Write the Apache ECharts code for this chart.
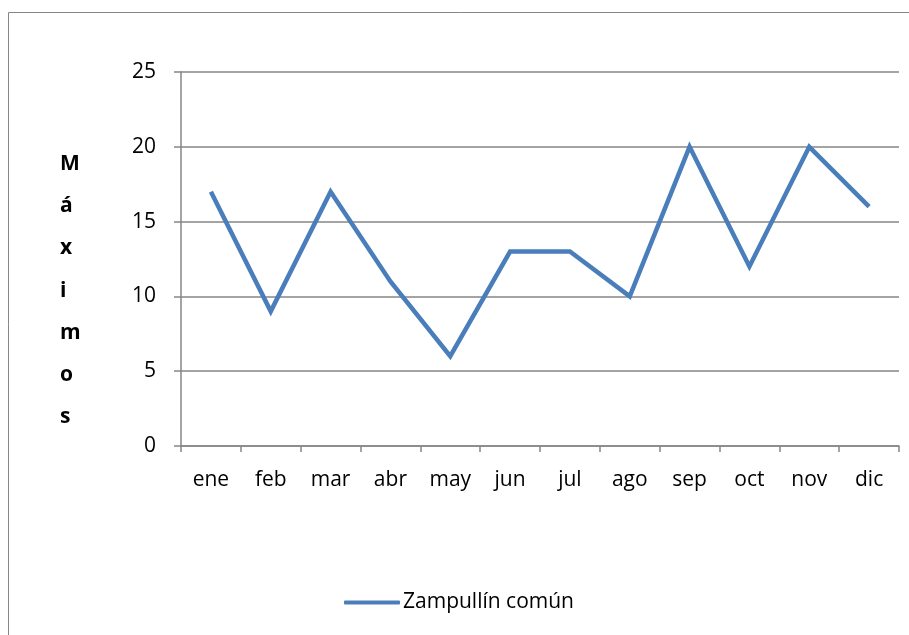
<!DOCTYPE html>
<html>
<head>
<meta charset="utf-8">
<script src="https://cdn.jsdelivr.net/npm/echarts@6/dist/echarts.min.js"></script>
<style>
  html, body { margin: 0; padding: 0; background: #fff; }
  #chart { width: 909px; height: 635px; }
</style>
</head>
<body>
<div id="chart"></div>
<script>
// meses y máximos del zampullín común
var meses = ['ene', 'feb', 'mar', 'abr', 'may', 'jun', 'jul', 'ago', 'sep', 'oct', 'nov', 'dic'];
var maximos = [17, 9, 17, 11, 6, 13, 13, 10, 20, 12, 20, 16];
var serieNombre = 'Zampullín común';
var ejeTitulo = 'Máximos';

var chart = echarts.init(document.getElementById('chart'));
var gris = '#868686';
var fuente = 'Open Sans';

var option = {
    animation: false,
    textStyle: { fontFamily: fuente },
    grid: { left: 181, top: 72, right: 10, bottom: 189 },
    graphic: [
        {
            type: 'rect',
            shape: { x: 8.5, y: 12.5, width: 1200, height: 1200 },
            style: { fill: 'none', stroke: gris, lineWidth: 1 },
            silent: true
        },
        {
            type: 'text',
            left: 60,
            top: 143,
            style: {
                text: ejeTitulo.split('').join('\n'),
                font: 'bold 21px "Open Sans"',
                lineHeight: 42.2,
                fill: '#000',
                align: 'center'
            }
        }
    ],
    legend: {
        bottom: 17,
        left: 339,
        itemWidth: 56,
        itemHeight: 4,
        itemGap: 0,
        icon: 'roundRect',
        data: [serieNombre],
        textStyle: { fontSize: 21, color: '#000', fontFamily: fuente, padding: [0, 0, 0, -2] }
    },
    xAxis: {
        type: 'category',
        data: meses,
        boundaryGap: true,
        axisLine: { lineStyle: { color: gris, width: 1.5 } },
        axisTick: { show: true, interval: 0, length: 6, lineStyle: { color: gris, width: 1.5 } },
        axisLabel: { interval: 0, margin: 24, fontSize: 21, color: '#000', fontFamily: fuente },
        splitLine: { show: false }
    },
    yAxis: {
        type: 'value',
        min: 0,
        max: 25,
        interval: 5,
        axisLine: { show: true, lineStyle: { color: gris, width: 1.5 } },
        axisTick: { show: true, length: 7, lineStyle: { color: gris, width: 1.5 } },
        axisLabel: { margin: 25, fontSize: 21, color: '#000', fontFamily: fuente },
        splitLine: { show: true, lineStyle: { color: gris, width: 1.5 } }
    },
    series: [
        {
            name: serieNombre,
            type: 'line',
            data: maximos,
            symbol: 'none',
            lineStyle: { color: '#4A7EBB', width: 4.5, join: 'miter' },
            itemStyle: { color: '#4A7EBB' }
        }
    ]
};

chart.setOption(option);
</script>
</body>
</html>
